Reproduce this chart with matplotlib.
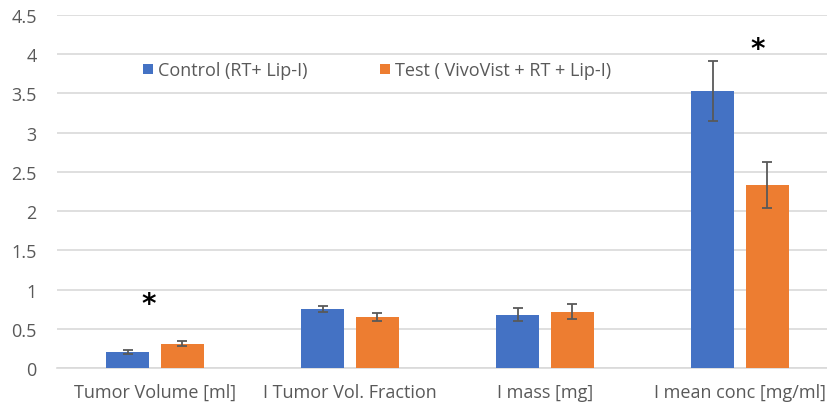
import numpy as np
import matplotlib.pyplot as plt

# === Data ===
categories = ["Tumor Volume [ml]", "I Tumor Vol. Fraction", "I mass [mg]", "I mean conc [mg/ml]"]
control_vals = [0.20, 0.75, 0.68, 3.53]
control_err = [0.025, 0.04, 0.085, 0.38]
test_vals = [0.31, 0.65, 0.72, 2.33]
test_err = [0.035, 0.05, 0.10, 0.29]
control_label = "Control (RT+ Lip-I)"
test_label = "Test ( VivoVist + RT + Lip-I)"
# significance markers: (x in category units, y value)
stars = [(-0.03, 0.82), (3.09, 4.07)]
yticks = [0, 0.5, 1, 1.5, 2, 2.5, 3, 3.5, 4, 4.5]
ytick_labels = ["0", "0.5", "1", "1.5", "2", "2.5", "3", "3.5", "4", "4.5"]

plt.rcParams['font.family'] = ['Open Sans', 'DejaVu Sans']

fig = plt.figure(figsize=(8.28, 4.06), dpi=100)
ax = fig.add_axes([57.5 / 828, 1 - 369 / 406, 780 / 828, 353 / 406])

x = np.arange(len(categories))
w = 0.22
gap = 0.06
off = (w + gap) / 2
ekw = dict(ecolor='#595959', elinewidth=1.3, capsize=3.5, capthick=1.3)

ax.bar(x - off, control_vals, w, yerr=control_err, color='#4472C4',
       label=control_label, error_kw=ekw, zorder=3)
ax.bar(x + off, test_vals, w, yerr=test_err, color='#ED7D31',
       label=test_label, error_kw=ekw, zorder=3)

for sx, sy in stars:
    ax.text(sx, sy, "*", ha='center', va='center', fontsize=20,
            fontweight='bold', color='black', family='DejaVu Sans')

ax.set_xlim(-0.5, len(categories) - 0.5)
ax.set_ylim(0, 4.5)
ax.set_yticks(yticks)
ax.set_yticklabels(ytick_labels)
ax.set_xticks(x)
ax.set_xticklabels(categories)
ax.tick_params(axis='both', length=0, labelsize=13, labelcolor='#595959')
ax.tick_params(axis='x', pad=11)
ax.tick_params(axis='y', pad=15)
ax.grid(axis='y', color='#d9d9d9', linewidth=1.2, zorder=0)
ax.set_axisbelow(True)
for s in ['top', 'right', 'left']:
    ax.spines[s].set_visible(False)
ax.spines['bottom'].set_color('#d9d9d9')
ax.spines['bottom'].set_linewidth(1.2)

ax.legend(loc='center', bbox_to_anchor=(0.41, 0.843), ncol=2, frameon=False,
          fontsize=13, labelcolor='#595959', handlelength=0.55, handleheight=0.55,
          handletextpad=0.3, columnspacing=4.0)

fig.savefig("out.png", dpi=100)
